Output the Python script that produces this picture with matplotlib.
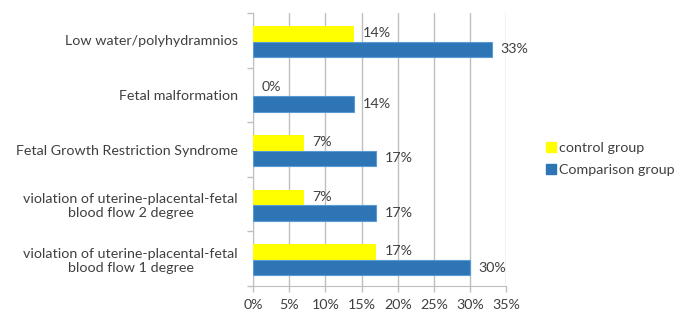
import numpy as np
import matplotlib.pyplot as plt
from matplotlib.lines import Line2D

# Outcomes, bottom to top
categories = [
    'violation of uterine-placental-fetal\nblood flow 1 degree',
    'violation of uterine-placental-fetal\nblood flow 2 degree',
    'Fetal Growth Restriction Syndrome',
    'Fetal malformation',
    'Low water/polyhydramnios',
]
control = [17, 7, 7, 0, 14]
comparison = [30, 17, 17, 14, 33]
xticks = [0, 5, 10, 15, 20, 25, 30, 35]

plt.rcParams['font.family'] = ['Lato', 'DejaVu Sans']
fs = 10.3
text_col = '#404040'
grid_col = '#BFBFBF'
yellow = '#FFFF00'
blue = '#2E75B6'

fig = plt.figure(figsize=(6.84, 3.2), dpi=100)
ax = fig.add_axes([0.370, 0.106, 0.370, 0.853])

y = np.arange(len(categories))
h = 0.285
ax.barh(y + 0.12, control, height=h, color=yellow, zorder=3)
ax.barh(y - 0.163, comparison, height=h, color=blue, edgecolor='#5B9BD5',
        linewidth=0.8, zorder=3)

for yi, c, b in zip(y, control, comparison):
    ax.text(c + 1.2, yi + 0.12 + 0.02, f'{c}%', va='center', ha='left',
            fontsize=fs, color=text_col)
    ax.text(b + 1.2, yi - 0.163, f'{b}%', va='center', ha='left',
            fontsize=fs, color=text_col)

ax.set_xlim(0, 35)
ax.set_ylim(-0.5, len(categories) - 0.5)
ax.set_xticks(xticks)
ax.set_xticklabels([f'{v}%' for v in xticks], fontsize=fs, color=text_col)
ax.set_yticks(y)
ax.set_yticklabels(categories, fontsize=fs, color=text_col, ha='right',
                   multialignment='center')
ax.set_yticks(np.arange(-0.5, len(categories)), minor=True)
ax.tick_params(axis='y', which='major', length=0, pad=11)
ax.tick_params(axis='y', which='minor', length=4, color=grid_col, width=1)
ax.tick_params(axis='x', length=4, color=grid_col, width=1, pad=5)

ax.grid(axis='x', color=grid_col, linewidth=1, zorder=0)
for s in ['top', 'right']:
    ax.spines[s].set_visible(False)
ax.spines['left'].set_color(grid_col)
ax.spines['bottom'].set_color(grid_col)

handles = [
    Line2D([], [], marker='s', linestyle='none', markersize=6.5,
           markerfacecolor=yellow, markeredgecolor=yellow),
    Line2D([], [], marker='s', linestyle='none', markersize=6.5,
           markerfacecolor=blue, markeredgecolor=blue),
]
fig.legend(handles, ['control group', 'Comparison group'],
           loc='center left', bbox_to_anchor=(0.776, 0.503), frameon=False,
           fontsize=fs, labelcolor=text_col, handletextpad=0.05,
           handlelength=1.0, labelspacing=0.75)

fig.savefig('out.png', dpi=100)
